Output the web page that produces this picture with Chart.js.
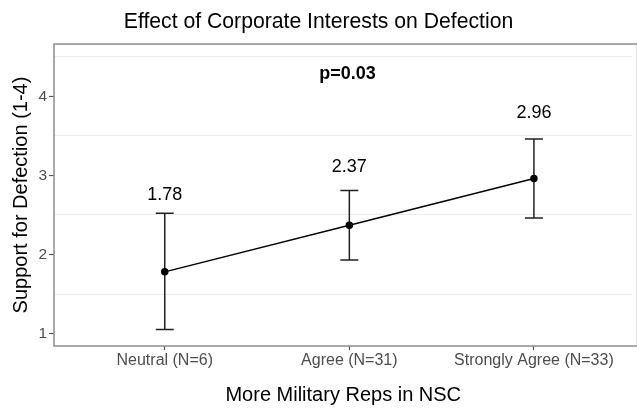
<!DOCTYPE html>
<html>
<head>
<meta charset="utf-8">
<script src="https://cdn.jsdelivr.net/npm/chart.js@4.4.1/dist/chart.umd.min.js"></script>
<style>
  html, body { margin: 0; padding: 0; background: #fff; }
  #wrap { width: 637px; height: 414px; }
</style>
</head>
<body>
<div id="wrap"><canvas id="chart" width="637" height="414"></canvas></div>
<script>
const categories = ['Neutral (N=6)', 'Agree (N=31)', 'Strongly Agree (N=33)'];
const means = [1.78, 2.37, 2.96];
const lower = [1.05, 1.93, 2.46];
const upper = [2.52, 2.81, 3.46];
const labelY = [2.75, 3.11, 3.79];
const yTicks = [1, 2, 3, 4];
const yMinorGrid = [1.5, 2.5, 3.5, 4.5];
const pText = 'p=0.03';
const pPos = { x: 1.99, y: 4.28 };

const FONT = "'Liberation Sans', Arial, Helvetica, sans-serif";

// error bars, value labels, p-value and panel border
const extras = {
  id: 'extras',
  beforeDatasetsDraw(chart) {
    const { ctx, scales: { x, y } } = chart;
    ctx.save();
    ctx.strokeStyle = '#222';
    ctx.lineWidth = 1.5;
    means.forEach((m, i) => {
      const px = x.getPixelForValue(i + 1);
      const top = y.getPixelForValue(upper[i]);
      const bot = y.getPixelForValue(lower[i]);
      ctx.beginPath();
      ctx.moveTo(px, top); ctx.lineTo(px, bot);
      ctx.moveTo(px - 9, top); ctx.lineTo(px + 9, top);
      ctx.moveTo(px - 9, bot); ctx.lineTo(px + 9, bot);
      ctx.stroke();
    });
    ctx.restore();
  },
  afterDraw(chart) {
    const { ctx, chartArea: a, scales: { x, y } } = chart;
    ctx.save();
    ctx.fillStyle = '#000';
    ctx.textAlign = 'center';
    ctx.textBaseline = 'middle';
    ctx.font = '18px ' + FONT;
    means.forEach((m, i) => {
      ctx.fillText(m.toFixed(2), x.getPixelForValue(i + 1), y.getPixelForValue(labelY[i]));
    });
    ctx.font = 'bold 18px ' + FONT;
    ctx.fillText(pText, x.getPixelForValue(pPos.x), y.getPixelForValue(pPos.y));
    ctx.strokeStyle = '#8c8c8c';
    ctx.lineWidth = 1.5;
    ctx.strokeRect(a.left, a.top, a.right - a.left + 5, a.bottom - a.top);
    ctx.restore();
  }
};

new Chart(document.getElementById('chart'), {
  type: 'line',
  data: {
    datasets: [{
      data: means.map((m, i) => ({ x: i + 1, y: m })),
      borderColor: '#000',
      backgroundColor: '#000',
      borderWidth: 1.5,
      pointRadius: 3,
      pointHoverRadius: 3,
      tension: 0
    }]
  },
  options: {
    responsive: false,
    animation: false,
    events: [],
    layout: { padding: 0 },
    plugins: {
      legend: { display: false },
      tooltip: { enabled: false },
      title: {
        display: true,
        text: 'Effect of Corporate Interests on Defection',
        color: '#000',
        font: { family: FONT, size: 21.2, weight: 'normal', lineHeight: 1.2 },
        padding: { top: 9.3, bottom: 9.3 }
      }
    },
    scales: {
      x: {
        type: 'linear',
        min: 0.4,
        max: 3.534,
        afterBuildTicks(s) { s.ticks = categories.map((c, i) => ({ value: i + 1 })); },
        afterFit(s) { s.height = 68; },
        border: { display: false },
        grid: { drawOnChartArea: false, drawTicks: true, tickLength: 4, tickColor: '#555', tickWidth: 1.2 },
        ticks: {
          padding: 1,
          color: '#4d4d4d',
          font: { family: FONT, size: 16 },
          maxRotation: 0,
          autoSkip: false,
          callback: v => categories[v - 1]
        },
        title: {
          display: true,
          text: 'More Military Reps in NSC',
          color: '#000',
          font: { family: FONT, size: 20, lineHeight: 1.2 },
          padding: { top: 0, bottom: 7 }
        }
      },
      y: {
        min: 0.843,
        max: 4.66,
        afterBuildTicks(s) {
          s.ticks = yTicks.concat(yMinorGrid).sort((a, b) => a - b).map(v => ({ value: v }));
        },
        afterFit(s) { s.width = 54; },
        border: { display: false },
        grid: {
          color: c => yMinorGrid.includes(c.tick.value) ? '#ebebeb' : 'rgba(0,0,0,0)',
          lineWidth: 1,
          tickLength: 5,
          tickColor: c => yTicks.includes(c.tick.value) ? '#555' : 'rgba(0,0,0,0)',
          tickWidth: 1.2
        },
        ticks: {
          padding: 2,
          color: '#4d4d4d',
          font: { family: FONT, size: 15.5 },
          autoSkip: false,
          callback: v => yTicks.includes(v) ? String(v) : ''
        },
        title: {
          display: true,
          text: 'Support for Defection (1-4)',
          color: '#000',
          font: { family: FONT, size: 20, lineHeight: 1.2 },
          padding: { top: 9.5, bottom: 0 }
        }
      }
    }
  },
  plugins: [extras]
});
</script>
</body>
</html>
